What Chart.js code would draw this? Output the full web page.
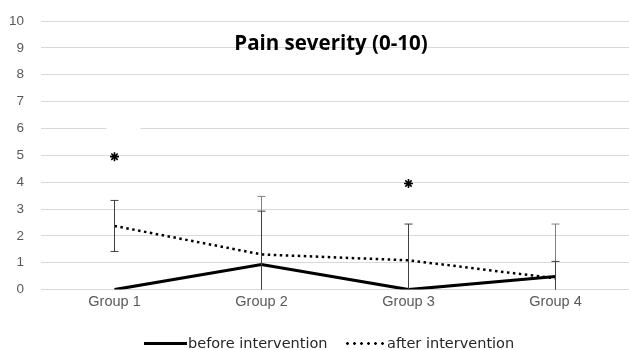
<!DOCTYPE html>
<html>
<head>
<meta charset="utf-8">
<script src="https://cdn.jsdelivr.net/npm/chart.js@4/dist/chart.umd.min.js"></script>
<style>
  html, body { margin: 0; padding: 0; background: #fff; }
  #wrap { position: relative; width: 629px; height: 350px; }
  .item { position: absolute; top: 334px; display: flex; align-items: center; font-family: "DejaVu Sans", sans-serif; font-size: 14.5px; color: #262626; line-height: 18px; white-space: nowrap; }
  .sw { display: inline-block; height: 3px; margin-right: 1px; }
  .solid { width: 43px; background: #000; }
  .dotted { width: 42px; background-image: radial-gradient(circle, #000 1.1px, rgba(0,0,0,0) 1.6px); background-size: 7px 3px; background-position: 0 0; }
</style>
</head>
<body>
<div id="wrap">
  <canvas id="c" width="629" height="350"></canvas>
  <div class="item" style="left:144px"><span class="sw solid"></span><span>before intervention</span></div>
  <div class="item" style="left:344px"><span class="sw dotted"></span><span>after intervention</span></div>
</div>
<script>
const categories = ["Group 1", "Group 2", "Group 3", "Group 4"];
const beforeValues = [0, 0.93, 0, 0.49];
const afterValues = [2.37, 1.31, 1.09, 0.42];
const beforeError = [null, 2.54, null, 1.95];
const afterError = [0.95, 1.61, 1.35, 0.63];
const starValues = [4.95, null, 3.95, null];
const yTicks = [0, 1, 2, 3, 4, 5, 6, 7, 8, 9, 10];
const chartTitle = "Pain severity (0-10)";
const seriesNames = ["before intervention", "after intervention"];

const FONT = "'Liberation Sans', Arial, sans-serif";
const TITLE_FONT = "'Open Sans', sans-serif";

const errorBarPlugin = {
  id: 'errorBars',
  beforeDatasetsDraw(chart) {
    // small white gap on the 6 gridline, as in the reference
    const ctx = chart.ctx, y = chart.scales.y, x = chart.scales.x;
    const py = y.getPixelForValue(6);
    const x0 = x.getPixelForValue(0);
    ctx.save();
    ctx.fillStyle = '#fff';
    ctx.fillRect(x0 - 8, py - 2, 34, 4);
    ctx.restore();
  },
  afterDatasetsDraw(chart) {
    const ctx = chart.ctx, yS = chart.scales.y;
    ctx.save();
    chart.data.datasets.forEach((ds, di) => {
      if (!ds.errors) return;
      const meta = chart.getDatasetMeta(di);
      meta.data.forEach((pt, i) => {
        const e = ds.errors[i];
        if (e == null) return;
        const v = ds.data[i];
        const hi = yS.getPixelForValue(v + e);
        const loV = v - e;
        const lo = yS.getPixelForValue(Math.max(loV, 0));
        ctx.strokeStyle = ds.errorColor;
        ctx.lineWidth = 1;
        ctx.beginPath();
        ctx.moveTo(pt.x, hi);
        ctx.lineTo(pt.x, lo);
        ctx.moveTo(pt.x - 4, hi);
        ctx.lineTo(pt.x + 4, hi);
        if (loV >= 0) {
          ctx.moveTo(pt.x - 4, lo);
          ctx.lineTo(pt.x + 4, lo);
        }
        ctx.stroke();
      });
    });
    ctx.restore();
  },
  afterDraw(chart) {
    const ctx = chart.ctx;
    const area = chart.chartArea;
    ctx.save();
    ctx.font = "bold 20.5px " + TITLE_FONT;
    ctx.fillStyle = '#000';
    ctx.textAlign = 'center';
    ctx.textBaseline = 'middle';
    ctx.fillText(chartTitle, (area.left + area.right) / 2 - 4, chart.scales.y.getPixelForValue(9) - 4);
    ctx.restore();
  }
};

new Chart(document.getElementById('c'), {
  type: 'line',
  data: {
    labels: categories,
    datasets: [
      {
        label: "stars",
        data: starValues,
        showLine: false,
        pointStyle: 'star',
        pointRadius: 4.5,
        pointBorderWidth: 1.6,
        borderColor: '#000',
        backgroundColor: '#000',
        order: 0
      },
      {
        label: seriesNames[0],
        data: beforeValues,
        errors: beforeError,
        errorColor: '#808080',
        borderColor: '#000',
        borderWidth: 3,
        pointRadius: 0,
        tension: 0,
        order: 1
      },
      {
        label: seriesNames[1],
        data: afterValues,
        errors: afterError,
        errorColor: '#404040',
        borderColor: '#000',
        borderWidth: 2.5,
        borderDash: [2.5, 3.5],
        pointRadius: 0,
        tension: 0,
        order: 2
      }
    ]
  },
  options: {
    responsive: false,
    animation: false,
    layout: { autoPadding: false, padding: { left: 0, right: 0, top: 21, bottom: 35 } },
    plugins: {
      legend: { display: false },
      tooltip: { enabled: false },
      title: { display: false }
    },
    scales: {
      x: {
        offset: true,
        afterFit(axis) { axis.paddingLeft = 0; axis.paddingRight = 0; },
        grid: { display: false, drawTicks: false, offset: true },
        border: { display: false },
        ticks: { color: '#595959', font: { family: FONT, size: 14.5 }, padding: 4 }
      },
      y: {
        min: 0,
        max: 10,
        afterBuildTicks(axis) { axis.ticks = yTicks.map(v => ({ value: v })); },
        afterFit(axis) { axis.width = 41; axis.paddingTop = 0; axis.paddingBottom = 0; },
        grid: { color: '#d9d9d9', lineWidth: 1, drawTicks: false },
        border: { display: false },
        ticks: { color: '#595959', font: { family: FONT, size: 13.5 }, padding: 17 }
      }
    }
  },
  plugins: [errorBarPlugin]
});
</script>
</body>
</html>
